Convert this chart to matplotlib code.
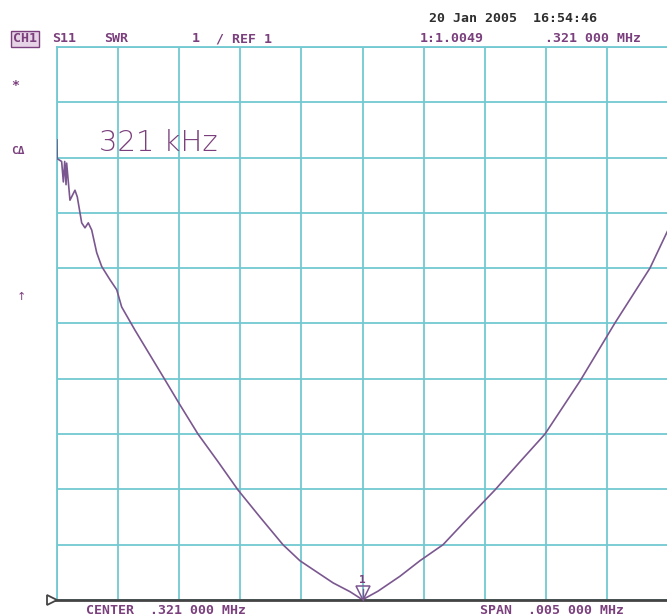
import matplotlib
matplotlib.use("Agg")
import matplotlib.pyplot as plt
import matplotlib.transforms as mtransforms

# trace: frequency (kHz) and SWR
freq_khz = [318.500, 318.502, 318.538, 318.552, 318.563, 318.574, 318.579, 318.606,
            318.647, 318.666, 318.702, 318.729, 318.756, 318.784, 318.825, 318.866,
            318.934, 318.989, 319.029, 319.138, 319.261, 319.384, 319.506, 319.654,
            319.818, 319.981, 320.161, 320.349, 320.488, 320.759, 320.898, 321.000,
            321.127, 321.307, 321.470, 321.659, 321.863, 322.084, 322.289, 322.493,
            322.780, 323.066, 323.352, 323.500]
swr = [9.32, 8.98, 8.93, 8.56, 8.93, 8.51, 8.90, 8.23,
       8.41, 8.29, 7.82, 7.73, 7.82, 7.69, 7.28, 7.03,
       6.79, 6.61, 6.30, 5.88, 5.43, 4.98, 4.53, 4.00,
       3.50, 2.99, 2.50, 2.00, 1.71, 1.31, 1.15, 1.005,
       1.16, 1.43, 1.71, 2.00, 2.48, 2.99, 3.50, 4.00,
       4.96, 6.01, 7.00, 7.69]

center_khz = 321.0
span_khz = 5.0
ref_swr = 1.0
scale_per_div = 1.0
n_div = 10

marker_freq = 321.0
marker_swr = 1.0049

GRID = "#72c9d1"
TRACE = "#7b5790"
ANNOT = "#7a3f7c"
DARK = "#2e2e2e"

W, H = 667, 616
fig = plt.figure(figsize=(W / 100, H / 100), dpi=100)
fig.patch.set_facecolor("white")


def px(x, y):
    return x / W, 1 - y / H


ax_l, ax_t = px(57, 47)
ax_r, ax_b = px(668, 600)
ax = fig.add_axes([ax_l, ax_b, ax_r - ax_l, ax_t - ax_b])

x0 = center_khz - span_khz / 2
x1 = center_khz + span_khz / 2
ax.set_xlim(x0, x1)
ax.set_ylim(ref_swr, ref_swr + n_div * scale_per_div)
ax.set_xticks([x0 + i * span_khz / n_div for i in range(n_div + 1)])
ax.set_yticks([ref_swr + i * scale_per_div for i in range(n_div + 1)])
ax.grid(True, color=GRID, linewidth=1.3)
ax.tick_params(length=0, labelbottom=False, labelleft=False)
for s in ["left", "top", "right"]:
    ax.spines[s].set_color(GRID)
    ax.spines[s].set_linewidth(1.3)
ax.spines["bottom"].set_visible(False)

ax.plot(freq_khz, swr, color=TRACE, linewidth=1.2, zorder=3)

# reference line and its triangle
ax.plot([-0.008, 1], [0, 0], transform=ax.transAxes, color="#444444",
        linewidth=2.0, clip_on=False, zorder=4)
ax.plot([-0.009], [0], transform=ax.transAxes, marker=">", markersize=7,
        markerfacecolor="white", markeredgecolor="#444444", markeredgewidth=1.3,
        clip_on=False, zorder=5)

# marker 1 at the minimum
tri = mtransforms.offset_copy(ax.transData, fig=fig, x=0, y=7, units="dots")
ax.plot([marker_freq], [marker_swr], transform=tri, marker="v", markersize=10,
        markerfacecolor="none", markeredgecolor=TRACE, markeredgewidth=1.1,
        clip_on=False, zorder=5)
ax.plot([marker_freq, marker_freq], [marker_swr, marker_swr + 0.2],
        color=TRACE, linewidth=1.0, clip_on=False, zorder=5)
lab = mtransforms.offset_copy(ax.transData, fig=fig, x=0, y=20, units="dots")
ax.text(marker_freq, marker_swr, "1", transform=lab, ha="center", va="center",
        fontsize=8, family="DejaVu Sans Mono", fontweight="bold", color=ANNOT)

mono = dict(family="DejaVu Sans Mono", fontweight="bold", fontsize=9.5, va="center")

fig.text(*px(429, 18), "20 Jan 2005  16:54:46", color=DARK, **mono)
fig.text(*px(13, 39), "CH1", color=ANNOT,
         bbox=dict(boxstyle="square,pad=0.12", facecolor="#e6d3e6",
                   edgecolor=ANNOT, linewidth=1.0), **mono)
fig.text(*px(52, 39), "S11", color=ANNOT, **mono)
fig.text(*px(104, 39), "SWR", color=ANNOT, **mono)
fig.text(*px(192, 39), "1", color=ANNOT, **mono)
fig.text(*px(216, 39), "/ REF 1", color=ANNOT, **mono)
fig.text(*px(420, 39), f"1:{marker_swr:.4f}", color=ANNOT, **mono)
fig.text(*px(545, 39), ".321 000 MHz", color=ANNOT, **mono)

fig.text(*px(11, 86), "*", color=ANNOT, **mono)
fig.text(*px(11, 151), "C\u0394", color=ANNOT, family="DejaVu Sans Mono",
         fontweight="bold", fontsize=8, va="center")
fig.text(*px(17, 297), "\u2191", color=ANNOT, family="DejaVu Sans",
         fontsize=8, va="center")

fig.text(*px(99, 143), "321 kHz", color=ANNOT, family="DejaVu Sans",
         fontweight="light", fontsize=21, va="center")

fig.text(*px(86, 610), "CENTER  .321 000 MHz", color=ANNOT, **mono)
fig.text(*px(480, 610), "SPAN  .005 000 MHz", color=ANNOT, **mono)

fig.savefig("out.png", dpi=100, facecolor="white")
